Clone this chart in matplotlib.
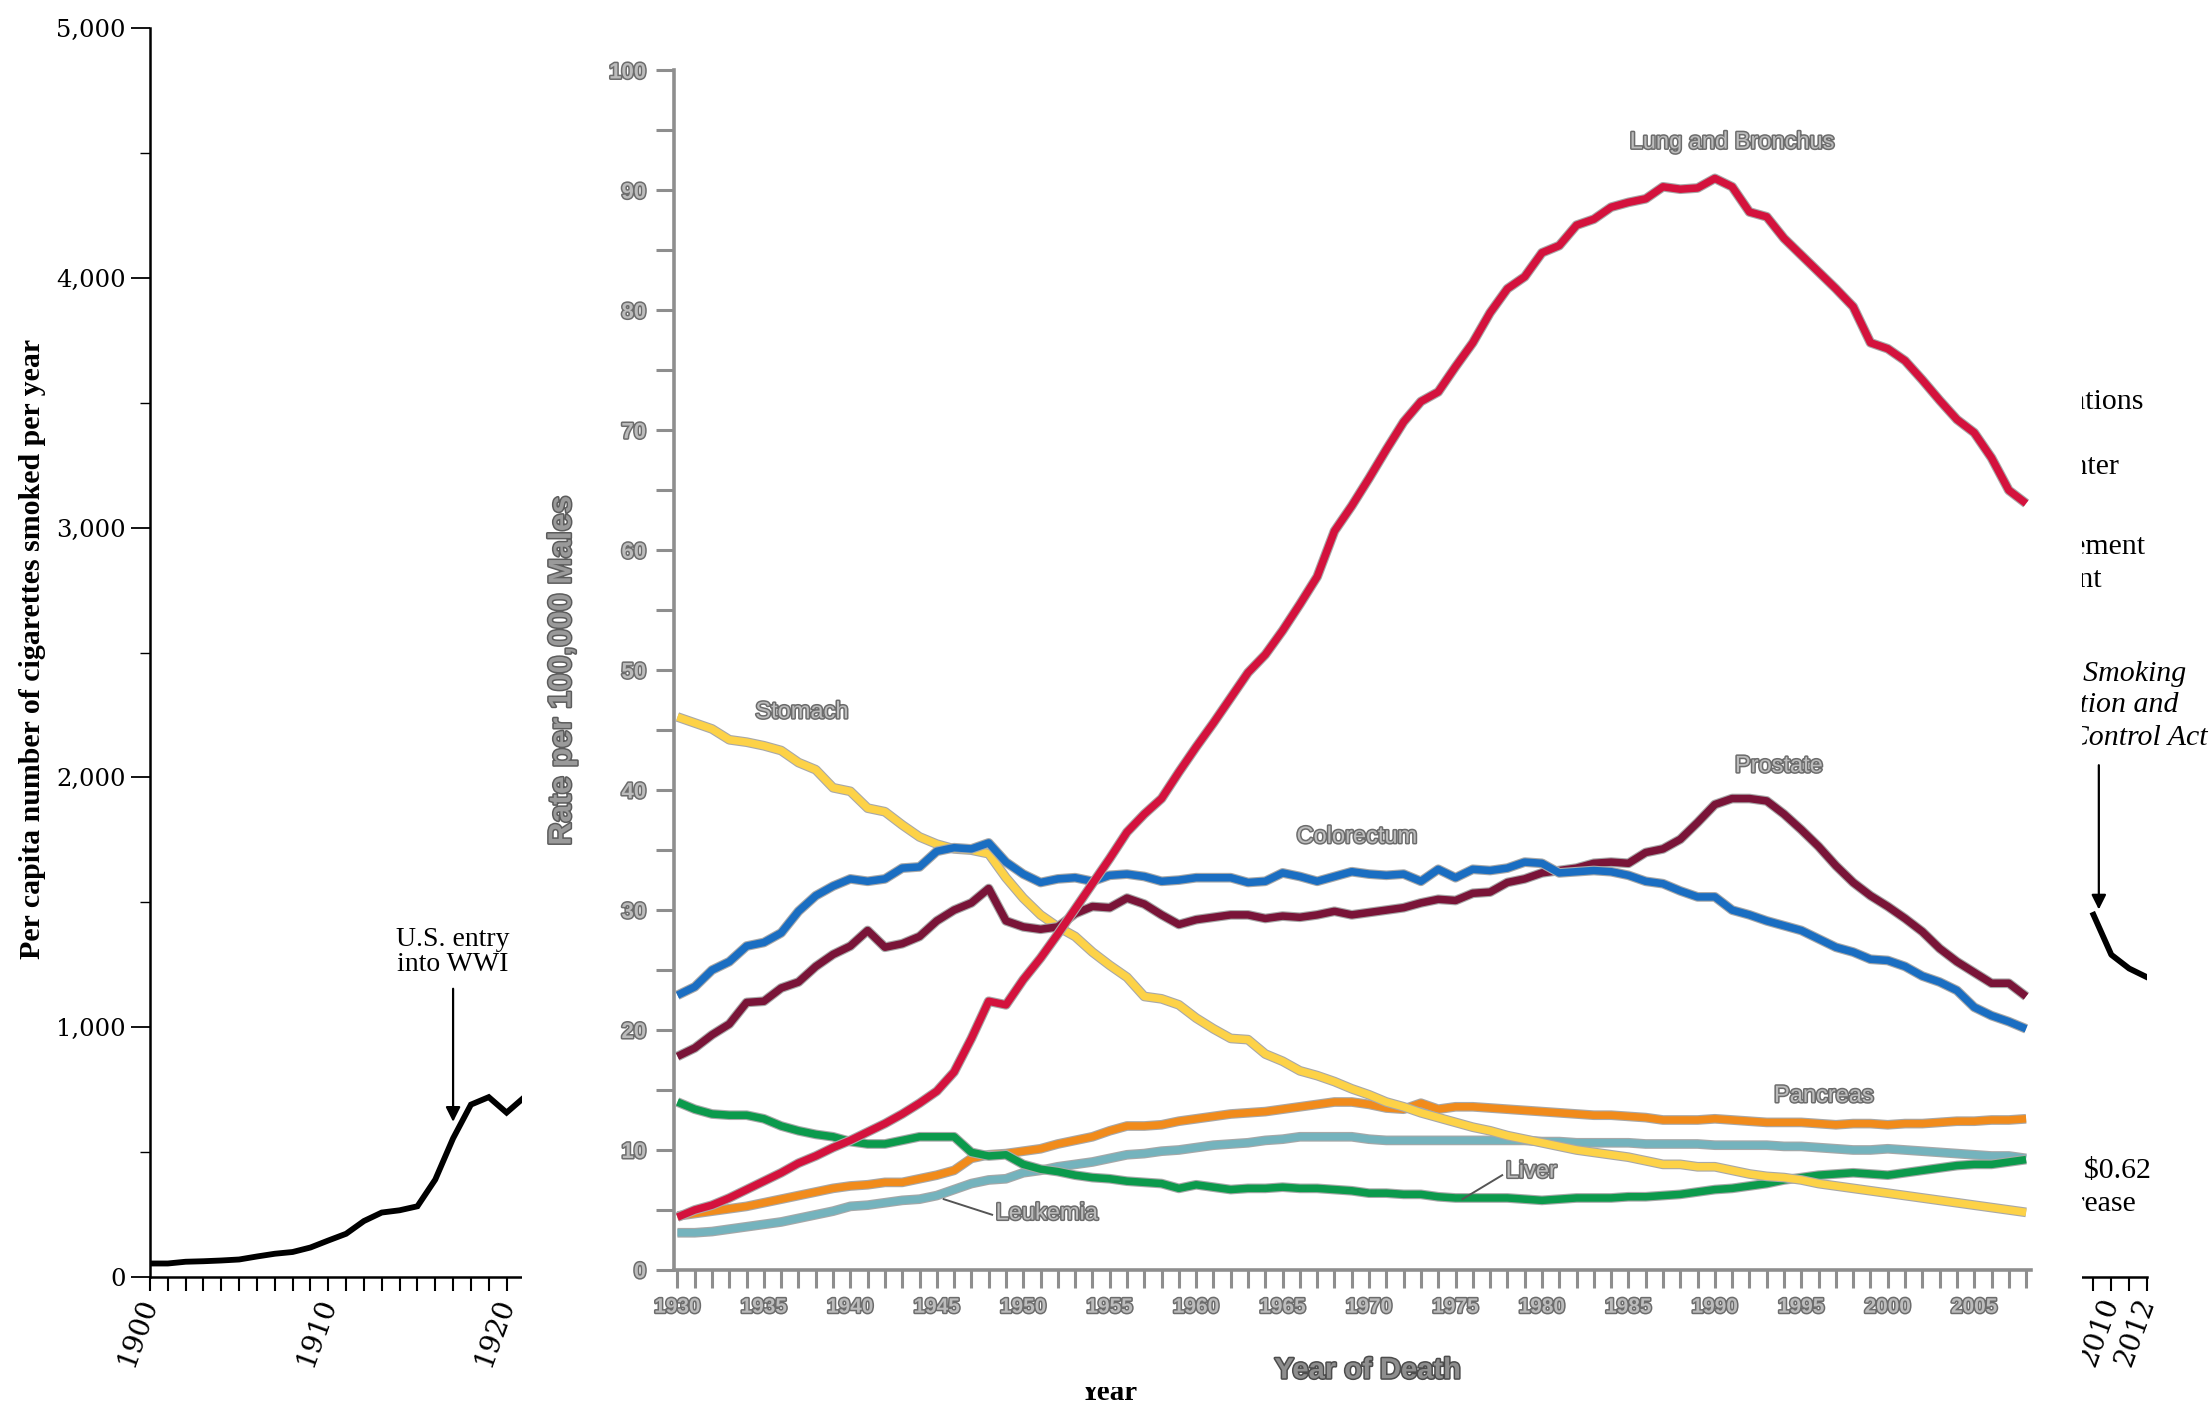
import matplotlib
matplotlib.use("Agg")
import matplotlib.pyplot as plt
import matplotlib.patheffects as pe
from matplotlib.ticker import MultipleLocator, FixedLocator

# background chart: per capita cigarettes (only the parts not hidden by the inset)
cig_years_early = [1900, 1901, 1902, 1903, 1904, 1905, 1906, 1907, 1908, 1909, 1910,
                   1911, 1912, 1913, 1914, 1915, 1916, 1917, 1918, 1919, 1920, 1921]
cig_early = [54, 54, 61, 63, 66, 70, 82, 93, 100, 118, 146,
             173, 224, 258, 267, 283, 390, 555, 690, 720, 658, 720]
cig_years_late = [2009, 2010, 2011, 2012]
cig_late = [1450, 1290, 1235, 1200]

# inset chart: male cancer death rates per 100,000
years = list(range(1930, 2009))
lung = [4.4, 5.0, 5.4, 6.0, 6.7, 7.4, 8.1, 8.9, 9.5, 10.2, 10.8, 11.5, 12.2, 13.0, 13.9, 14.9,
        16.5, 19.3, 22.4, 22.1, 24.2, 26.0, 28.0, 30.1, 32.2, 34.3, 36.5, 38.0, 39.3, 41.5, 43.6,
        45.6, 47.7, 49.8, 51.3, 53.3, 55.5, 57.8, 61.6, 63.7, 66.0, 68.4, 70.7, 72.4, 73.2, 75.3,
        77.3, 79.8, 81.8, 82.8, 84.8, 85.4, 87.1, 87.6, 88.6, 89.0, 89.3, 90.3, 90.1, 90.2, 91.0,
        90.3, 88.2, 87.8, 86.0, 84.6, 83.2, 81.8, 80.3, 77.3, 76.8, 75.8, 74.2, 72.5, 70.9, 69.8,
        67.7, 65.0, 63.9]
prostate = [17.8, 18.5, 19.6, 20.5, 22.3, 22.4, 23.5, 24.0, 25.3, 26.3, 27.0, 28.3, 26.9, 27.2,
            27.8, 29.1, 30.0, 30.6, 31.8, 29.1, 28.6, 28.4, 28.6, 29.7, 30.3, 30.2, 31.0, 30.5,
            29.6, 28.8, 29.2, 29.4, 29.6, 29.6, 29.3, 29.5, 29.4, 29.6, 29.9, 29.6, 29.8, 30.0,
            30.2, 30.6, 30.9, 30.8, 31.4, 31.5, 32.3, 32.6, 33.1, 33.3, 33.5, 33.9, 34.0, 33.9,
            34.8, 35.1, 35.9, 37.3, 38.8, 39.3, 39.3, 39.1, 38.0, 36.7, 35.3, 33.7, 32.3, 31.2,
            30.3, 29.3, 28.2, 26.8, 25.7, 24.8, 23.9, 23.9, 22.8]
colorectum = [22.9, 23.6, 25.0, 25.7, 27.0, 27.3, 28.1, 29.9, 31.2, 32.0, 32.6, 32.4, 32.6, 33.5,
              33.6, 34.9, 35.2, 35.1, 35.6, 34.0, 33.0, 32.3, 32.6, 32.7, 32.4, 32.9, 33.0, 32.8,
              32.4, 32.5, 32.7, 32.7, 32.7, 32.3, 32.4, 33.1, 32.8, 32.4, 32.8, 33.2, 33.0, 32.9,
              33.0, 32.4, 33.4, 32.7, 33.4, 33.3, 33.5, 34.0, 33.9, 33.1, 33.2, 33.3, 33.2, 32.9,
              32.4, 32.2, 31.6, 31.1, 31.1, 30.0, 29.6, 29.1, 28.7, 28.3, 27.6, 26.9, 26.5, 25.9,
              25.8, 25.3, 24.5, 24.0, 23.3, 21.9, 21.2, 20.7, 20.1]
stomach = [46.1, 45.6, 45.1, 44.2, 44.0, 43.7, 43.3, 42.3, 41.7, 40.2, 39.9, 38.5, 38.2, 37.1,
           36.1, 35.5, 35.1, 35.0, 34.7, 32.7, 31.0, 29.6, 28.6, 27.8, 26.5, 25.4, 24.4, 22.8,
           22.6, 22.1, 21.0, 20.1, 19.3, 19.2, 18.0, 17.4, 16.6, 16.2, 15.7, 15.1, 14.6, 14.0,
           13.6, 13.1, 12.7, 12.3, 11.9, 11.6, 11.2, 10.9, 10.6, 10.3, 10.0, 9.8, 9.6, 9.4, 9.1,
           8.8, 8.8, 8.6, 8.6, 8.3, 8.0, 7.8, 7.7, 7.5, 7.2, 7.0, 6.8, 6.6, 6.4, 6.2, 6.0, 5.8,
           5.6, 5.4, 5.2, 5.0, 4.8]
pancreas = [4.5, 4.7, 4.9, 5.1, 5.3, 5.6, 5.9, 6.2, 6.5, 6.8, 7.0, 7.1, 7.3, 7.3, 7.6, 7.9, 8.3,
            9.3, 9.6, 9.7, 9.9, 10.1, 10.5, 10.8, 11.1, 11.6, 12.0, 12.0, 12.1, 12.4, 12.6, 12.8,
            13.0, 13.1, 13.2, 13.4, 13.6, 13.8, 14.0, 14.0, 13.8, 13.5, 13.4, 13.9, 13.4, 13.6,
            13.6, 13.5, 13.4, 13.3, 13.2, 13.1, 13.0, 12.9, 12.9, 12.8, 12.7, 12.5, 12.5, 12.5,
            12.6, 12.5, 12.4, 12.3, 12.3, 12.3, 12.2, 12.1, 12.2, 12.2, 12.1, 12.2, 12.2, 12.3,
            12.4, 12.4, 12.5, 12.5, 12.6]
leukemia = [3.1, 3.1, 3.2, 3.4, 3.6, 3.8, 4.0, 4.3, 4.6, 4.9, 5.3, 5.4, 5.6, 5.8, 5.9, 6.2, 6.7,
            7.2, 7.5, 7.6, 8.1, 8.3, 8.6, 8.8, 9.0, 9.3, 9.6, 9.7, 9.9, 10.0, 10.2, 10.4, 10.5,
            10.6, 10.8, 10.9, 11.1, 11.1, 11.1, 11.1, 10.9, 10.8, 10.8, 10.8, 10.8, 10.8, 10.8,
            10.8, 10.8, 10.8, 10.7, 10.7, 10.6, 10.6, 10.6, 10.6, 10.5, 10.5, 10.5, 10.5, 10.4,
            10.4, 10.4, 10.4, 10.3, 10.3, 10.2, 10.1, 10.0, 10.0, 10.1, 10.0, 9.9, 9.8, 9.7, 9.6,
            9.5, 9.5, 9.3]
liver = [14.0, 13.4, 13.0, 12.9, 12.9, 12.6, 12.0, 11.6, 11.3, 11.1, 10.7, 10.5, 10.5, 10.8,
         11.1, 11.1, 11.1, 9.8, 9.5, 9.6, 8.8, 8.4, 8.2, 7.9, 7.7, 7.6, 7.4, 7.3, 7.2, 6.8, 7.1,
         6.9, 6.7, 6.8, 6.8, 6.9, 6.8, 6.8, 6.7, 6.6, 6.4, 6.4, 6.3, 6.3, 6.1, 6.0, 6.0, 6.0, 6.0,
         5.9, 5.8, 5.9, 6.0, 6.0, 6.0, 6.1, 6.1, 6.2, 6.3, 6.5, 6.7, 6.8, 7.0, 7.2, 7.5, 7.7, 7.9,
         8.0, 8.1, 8.0, 7.9, 8.1, 8.3, 8.5, 8.7, 8.8, 8.8, 9.0, 9.2]

serif = ["DejaVu Serif"]
serif_text = ["Liberation Serif", "DejaVu Serif"]
sans = ["Liberation Sans", "DejaVu Sans"]

fig = plt.figure(figsize=(22.12, 14.09), dpi=100)

# ---------------- background chart ----------------
ax = fig.add_axes([0.0678, 0.0937, 0.9028, 0.8864])
ax.set_zorder(0)
ax.plot(cig_years_early, cig_early, color="black", lw=4.2, solid_joinstyle="miter")
ax.plot(cig_years_late, cig_late, color="black", lw=4.2)
ax.set_xlim(1900, 2012)
ax.set_ylim(0, 5000)
for s in ["top", "right"]:
    ax.spines[s].set_visible(False)
ax.spines["left"].set_linewidth(1.8)
ax.spines["bottom"].set_linewidth(1.8)

ax.yaxis.set_minor_locator(MultipleLocator(500))
ax.set_yticks(range(0, 5001, 1000))
ax.set_yticklabels(["0", "1,000", "2,000", "3,000", "4,000", "5,000"],
                   fontfamily=serif, fontsize=17.5)
ax.tick_params(axis="y", which="major", length=14, width=1.3)
ax.tick_params(axis="y", which="minor", length=7, width=1.0)

xmajor = list(range(1900, 2011, 10)) + [2012]
ax.xaxis.set_major_locator(FixedLocator(xmajor))
ax.xaxis.set_minor_locator(MultipleLocator(1))
ax.set_xticklabels([str(y) for y in xmajor], fontfamily=serif, fontsize=20)
plt.setp(ax.get_xticklabels(), rotation=70, ha="right", va="center", rotation_mode="anchor")
ax.tick_params(axis="x", which="both", length=10, width=1.5, pad=6)

ax.set_ylabel("Per capita number of cigarettes smoked per year", fontfamily=serif_text,
              fontsize=21.5, fontweight="bold")
ax.yaxis.set_label_coords(-0.052, 0.503)
ax.set_xlabel("Year", fontfamily=serif_text, fontsize=21, fontweight="bold")
ax.xaxis.label.set_verticalalignment("baseline")
ax.xaxis.set_label_coords(0.48, -0.0985)

ax.text(1917, 1300, "U.S. entry\ninto WWI", ha="center", va="center", fontsize=20,
        fontfamily=serif_text, linespacing=1.0)
ax.annotate("", xy=(1917, 610), xytext=(1917, 1165),
            arrowprops=dict(arrowstyle="-|>", color="black", lw=1.6, mutation_scale=22))
ax.annotate("", xy=(2009.3, 1460), xytext=(2009.3, 2060),
            arrowprops=dict(arrowstyle="-|>", color="black", lw=1.6, mutation_scale=22))

# event notes on the right (mostly hidden by the inset)
notes = [
    (2011.8, 3503, "Nicotine medications", "normal"),
    (2010.4, 3243, "over the counter", "normal"),
    (2011.9, 2921, "Master Settlement", "normal"),
    (2009.5, 2791, "Agreement", "normal"),
    (2014.2, 2412, "Family Smoking", "italic"),
    (2013.8, 2288, "Prevention and", "italic"),
    (2015.4, 2158, "Tobacco Control Act", "italic"),
    (2012.2, 424, "Federal tax $0.62", "normal"),
    (2011.4, 294, "increase", "normal"),
]
for nx, ny, txt, style in notes:
    ax.text(nx, ny, txt, ha="right", va="center", fontsize=21.5, fontstyle=style,
            fontfamily=serif_text, clip_on=False)

# ---------------- white box of the inset ----------------
box = fig.add_axes([0.236, 0.0156, 0.7052, 0.9844])
box.set_zorder(2)
box.set_facecolor("white")
box.set_xticks([])
box.set_yticks([])
for s in box.spines.values():
    s.set_visible(False)

# ---------------- inset chart ----------------
gray_fill = "#bcbcbc"
gray_edge = "#6c6c6c"
txt_fx = [pe.withStroke(linewidth=2.2, foreground=gray_edge)]

ins = fig.add_axes([0.3047, 0.0987, 0.6136, 0.8513])
ins.set_zorder(3)
ins.patch.set_alpha(0)

series = [
    (leukemia, "#74b3bd"),
    (pancreas, "#f18b1b"),
    (liver, "#0b9a4c"),
    (stomach, "#fdd247"),
    (prostate, "#7a1438"),
    (colorectum, "#1a6ec2"),
    (lung, "#d4123d"),
]
for vals, col in series:
    ins.plot(years, vals, color=col, lw=5.4, solid_capstyle="butt",
             path_effects=[pe.Stroke(linewidth=7.0, foreground="#a8a8a8"), pe.Normal()])

ins.set_xlim(1929.8, 2008.3)
ins.set_ylim(0, 100)
for s in ["top", "right"]:
    ins.spines[s].set_visible(False)
for s in ["left", "bottom"]:
    ins.spines[s].set_color("#8e8e8e")
    ins.spines[s].set_linewidth(2.6)

ins.yaxis.set_major_locator(MultipleLocator(10))
ins.yaxis.set_minor_locator(MultipleLocator(5))
ins.xaxis.set_minor_locator(MultipleLocator(1))
ins.set_xticks(range(1930, 2006, 5))
ins.tick_params(axis="both", which="both", color="#8e8e8e", width=2.2, length=13)
ins.tick_params(axis="y", labelsize=16, labelcolor=gray_fill, pad=7)
ins.tick_params(axis="x", labelsize=15, labelcolor=gray_fill, pad=7)
for lab in ins.get_xticklabels() + ins.get_yticklabels():
    lab.set_fontfamily(sans)
    lab.set_fontweight("bold")
    lab.set_path_effects(txt_fx)

ins.set_ylabel("Rate per 100,000 Males", fontfamily=sans, fontsize=23, fontweight="bold",
               color="#9a9a9a", path_effects=[pe.withStroke(linewidth=2.2, foreground="#5c5c5c")])
ins.yaxis.set_label_coords(-0.071, 0.5)
ins.set_xlabel("Year of Death", fontfamily=sans, fontsize=21, fontweight="bold",
               color="#8e8e8e", path_effects=[pe.withStroke(linewidth=2.2, foreground="#4c4c4c")])
ins.xaxis.set_label_coords(0.511, -0.072)

labels = [
    (1991.0, 94.0, "Lung and Bronchus", "center"),
    (1937.2, 46.5, "Stomach", "center"),
    (1969.3, 36.1, "Colorectum", "center"),
    (1993.7, 42.0, "Prostate", "center"),
    (1996.3, 14.5, "Pancreas", "center"),
    (1977.9, 8.2, "Liver", "left"),
    (1948.4, 4.7, "Leukemia", "left"),
]
for lx, ly, txt, ha in labels:
    ins.text(lx, ly, txt, ha=ha, va="center", fontsize=17, fontfamily=sans,
             color=gray_fill, path_effects=txt_fx)

# leader lines
ins.plot([1975.4, 1977.7], [5.9, 7.9], color="#555555", lw=1.4)
ins.plot([1945.4, 1948.2], [5.9, 4.6], color="#555555", lw=1.4)

fig.savefig("out.png", dpi=100)
